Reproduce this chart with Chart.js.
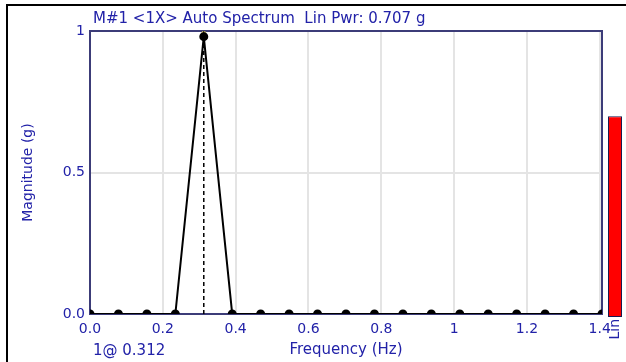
<!DOCTYPE html>
<html>
<head>
<meta charset="utf-8">
<script src="https://cdn.jsdelivr.net/npm/chart.js@4"></script>
<style>
  html, body { margin: 0; padding: 0; background: #fff; }
  #wrap { position: relative; width: 626px; height: 362px; overflow: hidden; }
  #frame { position: absolute; left: 6px; top: 4px; width: 660px; height: 400px; border-top: 2px solid #000; border-left: 2px solid #000; }
  #main { position: absolute; left: 0; top: 0; }
  #lin { position: absolute; left: 607px; top: 0; }
</style>
</head>
<body>
<div id="wrap">
  <div id="frame"></div>
  <canvas id="main" width="626" height="362"></canvas>
  <canvas id="lin" width="16" height="362"></canvas>
</div>
<script>
// spectrum lines (Hz)
const frequencies = [0, 0.078125, 0.15625, 0.234375, 0.3125, 0.390625, 0.46875, 0.546875, 0.625,
  0.703125, 0.78125, 0.859375, 0.9375, 1.015625, 1.09375, 1.171875, 1.25, 1.328125, 1.40625];
const magnitudes = [0, 0, 0, 0, 0.98, 0, 0, 0, 0, 0, 0, 0, 0, 0, 0, 0, 0, 0, 0];

const xTicks = [0, 0.2, 0.4, 0.6, 0.8, 1, 1.2, 1.4];
const xTickLabels = ["0.0", "0.2", "0.4", "0.6", "0.8", "1", "1.2", "1.4"];
const yTicks = [0, 0.5, 1];
const yTickLabels = ["0.0", "0.5", "1"];

const cursorFreq = 0.3125;
const cursorLabel = "1@ 0.312";
const linPower = [0.707];
const linLabels = ["Lin"];
const chartTitle = "M#1 <1X> Auto Spectrum  Lin Pwr: 0.707 g";

const BLUE = "#2222a8";
const NAVY = "#3c3c78";
const FONT = "DejaVu Sans";

// рамка области графика и подписи
const framePlugin = {
  id: "framePlugin",
  beforeDatasetsDraw(chart) {
    const { ctx, chartArea: a } = chart;
    ctx.save();
    ctx.strokeStyle = NAVY;
    ctx.lineWidth = 2;
    ctx.strokeRect(a.left, a.top, a.right - a.left, a.bottom - a.top);
    ctx.restore();
  },
  afterDraw(chart) {
    const { ctx, chartArea: a } = chart;
    ctx.save();
    ctx.fillStyle = BLUE;
    ctx.font = `15px "${FONT}"`;
    ctx.textBaseline = "middle";
    ctx.textAlign = "left";
    ctx.fillText(chartTitle, a.left + 3, 19);
    ctx.fillText(cursorLabel, a.left + 3, 351);
    // подпись под столбиком Lin, повернута
    ctx.font = `14px "${FONT}"`;
    ctx.translate(615, a.bottom + 5);
    ctx.rotate(-Math.PI / 2);
    ctx.textAlign = "right";
    ctx.fillText(linLabels[0], 0, 0);
    ctx.restore();
  }
};

new Chart(document.getElementById("main"), {
  type: "line",
  data: {
    datasets: [
      {
        data: frequencies.map((f, i) => ({ x: f, y: magnitudes[i] })),
        borderColor: "#000",
        borderWidth: 2,
        backgroundColor: "#000",
        pointRadius: 3.5,
        pointHoverRadius: 3.5,
        tension: 0
      },
      {
        // курсор
        data: [{ x: cursorFreq, y: 0 }, { x: cursorFreq, y: magnitudes[frequencies.indexOf(cursorFreq)] }],
        borderColor: "#000",
        borderWidth: 1.5,
        borderDash: [4, 3],
        pointRadius: 0
      },
      {
        data: [{ x: cursorFreq, y: 1 }],
        showLine: false,
        pointStyle: "crossRot",
        pointRadius: 3,
        borderColor: "#d8c870",
        borderWidth: 1.5
      }
    ]
  },
  options: {
    responsive: false,
    animation: false,
    layout: { padding: { top: 31, right: 24, left: 0, bottom: 0 } },
    plugins: { legend: { display: false }, tooltip: { enabled: false } },
    scales: {
      x: {
        type: "linear",
        min: 0,
        max: frequencies[frequencies.length - 1],
        afterBuildTicks(scale) { scale.ticks = xTicks.map((v) => ({ value: v })); },
        afterFit(scale) { scale.height = 48; },
        ticks: {
          callback(value, i) { return xTickLabels[i]; },
          color: BLUE,
          font: { family: FONT, size: 14 },
          padding: 7,
          maxRotation: 0
        },
        grid: { color: "#e4e4e4", lineWidth: 2, drawTicks: false },
        border: { display: false },
        title: {
          display: true,
          text: "Frequency (Hz)",
          color: BLUE,
          font: { family: FONT, size: 15 },
          padding: { top: 0, bottom: 3 }
        }
      },
      y: {
        min: 0,
        max: 1,
        afterBuildTicks(scale) { scale.ticks = yTicks.map((v) => ({ value: v })); },
        afterFit(scale) { scale.width = 90; },
        ticks: {
          callback(value, i) { return yTickLabels[i]; },
          color: BLUE,
          font: { family: FONT, size: 14 },
          padding: 5
        },
        grid: { color: "#e4e4e4", lineWidth: 2, drawTicks: false },
        border: { display: false },
        title: {
          display: true,
          text: "Magnitude (g)",
          color: BLUE,
          font: { family: FONT, size: 14 },
          padding: { top: 20, bottom: 0 }
        }
      }
    }
  },
  plugins: [framePlugin]
});

// столбик Lin справа
new Chart(document.getElementById("lin"), {
  type: "bar",
  data: {
    labels: linLabels,
    datasets: [{
      data: linPower,
      backgroundColor: "#ff0000",
      borderColor: "#1a1a50",
      borderWidth: 1,
      borderSkipped: false,
      barPercentage: 0.875,
      categoryPercentage: 1
    }]
  },
  options: {
    responsive: false,
    animation: false,
    layout: { padding: { top: 33, right: 0, left: 0, bottom: 45 } },
    plugins: { legend: { display: false }, tooltip: { enabled: false } },
    scales: {
      x: { display: false },
      y: { display: false, min: 0, max: 1 }
    }
  }
});
</script>
</body>
</html>
